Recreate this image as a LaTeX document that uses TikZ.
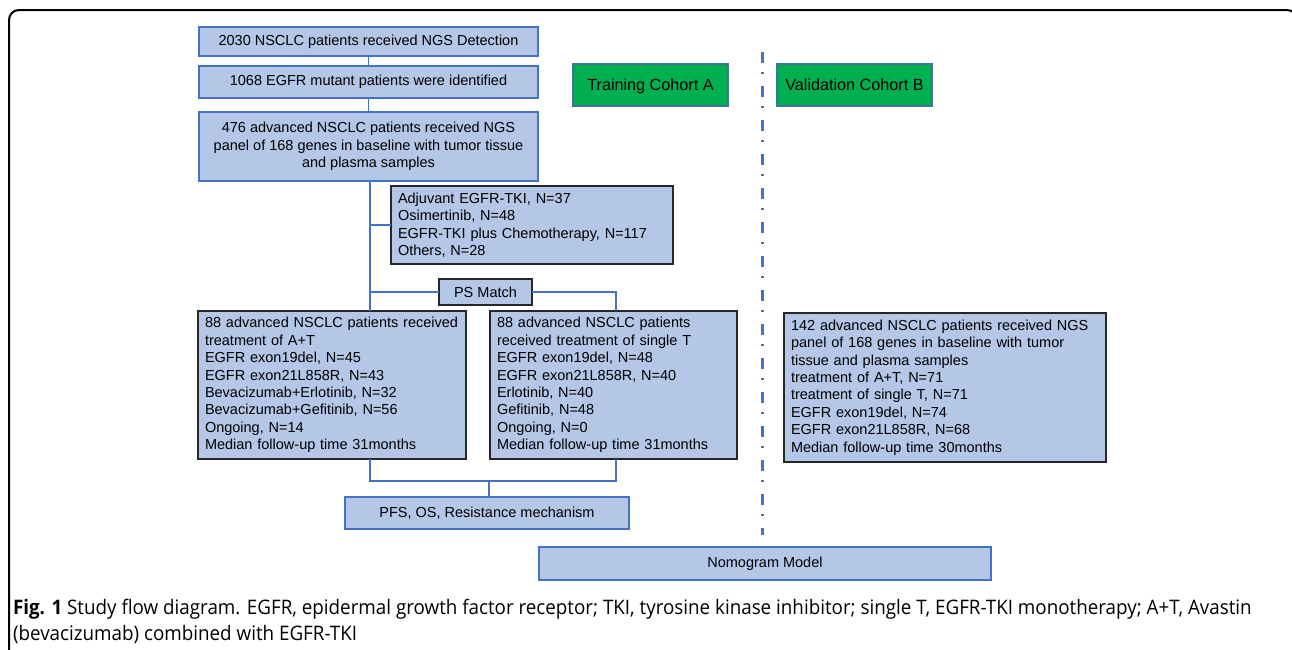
\documentclass[tikz,border=0pt]{standalone}
\usepackage{fontspec}
\setmainfont{Liberation Sans}
\newfontfamily\capfont[FakeStretch=0.94]{Open Sans}
\usepackage{xcolor}
\usetikzlibrary{calc}
\definecolor{boxfill}{HTML}{B4C7E7}
\definecolor{boxline}{HTML}{4472C4}
\definecolor{cohortgreen}{HTML}{00B050}
\definecolor{cohortline}{HTML}{41719C}
\definecolor{darkline}{HTML}{262626}
\hyphenpenalty=10000

\begin{document}
\begin{tikzpicture}[x=0.5pt,y=-0.5pt,
	every node/.style={inner sep=0pt,outer sep=0pt},
	flow/.style={draw=boxline,fill=boxfill,line width=0.65pt,font=\fontsize{7.25}{8.7}\selectfont,align=center},
	list/.style={draw=darkline,fill=boxfill,line width=1pt,font=\fontsize{7.25}{8.7}\selectfont,align=left,inner xsep=3.5pt},
	cohort/.style={draw=cohortline,fill=cohortgreen,line width=0.6pt,font=\fontsize{8.1}{9.7}\selectfont,minimum width=77.5pt,minimum height=21pt,text depth=0.5pt},
	link/.style={draw=boxline,line width=0.65pt},
	sz/.style 2 args={minimum width=#1,minimum height=#2}]
	\useasboundingbox (0,0) rectangle (1292,649);
	
	% frame
	\begin{scope}
		\clip (0,0) rectangle (1292,649);
		\draw[line width=1pt,rounded corners=5pt] (9,700) -- (9,10) -- (1297,10) -- (1297,700);
	\end{scope}
	
	% training cohort
	\node[flow,sz={169.5pt}{14.5pt}] (det) at (368.5,41.5) {2030 NSCLC patients received NGS Detection};
	\node[flow,sz={169.5pt}{16pt}] (egfr) at (368.5,82) {1068 EGFR mutant patients were identified};
	\node[flow,sz={169.5pt}{34.5pt}] (adv) at (368.5,146.5) {476 advanced NSCLC patients received NGS\\panel of 168 genes in baseline with tumor tissue\\and plasma samples};
	\node[list,sz={141pt}{39pt},text width=134pt] (excl) at (532,225) {Adjuvant EGFR-TKI, N=37\\Osimertinib, N=48\\EGFR-TKI plus Chemotherapy, N=117\\Others, N=28};
	\node[list,sz={46.5pt}{13pt},align=center] (ps) at (485.5,292) {PS Match};
	\node[list,sz={134pt}{74pt},text width=127pt] (armA) at (332,385) {88 advanced NSCLC patients received\\treatment of A+T\\EGFR exon19del, N=45\\EGFR exon21L858R, N=43\\Bevacizumab+Erlotinib, N=32\\Bevacizumab+Gefitinib, N=56\\Ongoing, N=14\\Median follow-up time 31months};
	\node[list,sz={123.5pt}{74pt},text width=116.5pt] (armB) at (613.5,385) {88 advanced NSCLC patients\\received treatment of single T\\EGFR exon19del, N=48\\EGFR exon21L858R, N=40\\Erlotinib, N=40\\Gefitinib, N=48\\Ongoing, N=0\\Median follow-up time 31months};
	\node[flow,sz={142pt}{16pt}] (pfs) at (487,513) {PFS, OS, Resistance mechanism};
	
	% validation cohort
	\node[list,sz={161pt}{74.5pt},text width=154pt] (valid) at (945,387.5) {142 advanced NSCLC patients received NGS\\panel of 168 genes in baseline with tumor\\tissue and plasma samples\\treatment of A+T, N=71\\treatment of single T, N=71\\EGFR exon19del, N=74\\EGFR exon21L858R, N=68\\Median follow-up time 30months};
	\node[flow,sz={226pt}{16.5pt}] (nomo) at (765,563.5) {Nomogram Model};
	
	\node[cohort] (train) at (650.5,85) {Training Cohort A};
	\node[cohort] (test) at (854.5,85) {Validation Cohort B};
	
	\draw[boxline,line width=1.5pt,dash pattern=on 5.5pt off 4.5pt on 1pt off 6pt] (762,52) -- (762,535);
	
	% connectors
	\coordinate (trunk) at ($(adv.south)+(1.5,0)$);
	\coordinate (merge) at ($(pfs.north)+(2,-16)$);
	\draw[link] (det.south) -- (egfr.north);
	\draw[link] (egfr.north |- egfr.south) -- (adv.north);
	\draw[link] (trunk) -- (trunk |- armA.north);
	\draw[link] (trunk |- excl.west) -- (excl.west);
	\draw[link] (trunk |- ps.west) -- (ps.west);
	\draw[link] (ps.east) -| ($(armB.north)+(2.5,0)$);
	\draw[link] (trunk |- armA.south) |- (merge) -| ($(armB.south)+(2.5,0)$);
	\draw[link] (merge) -- (merge |- pfs.north);
	\draw[link] ($(pfs.south east)+(-24,0)$) -- ($(pfs.south east)+(-24,0)$ |- nomo.north);
	\draw[link] ($(valid.south)+(-2,0)$) -- ($(valid.south)+(-2,0)$ |- nomo.north);
	
	% caption
	\node[anchor=north west,align=left,font=\capfont\fontsize{10}{13}\selectfont] (cap) at (13,599) {\textbf{Fig. 1} Study flow diagram. EGFR, epidermal growth factor receptor; TKI, tyrosine kinase inhibitor; single T, EGFR-TKI monotherapy; A+T, Avastin\\(bevacizumab) combined with EGFR-TKI};
\end{tikzpicture}
\end{document}
